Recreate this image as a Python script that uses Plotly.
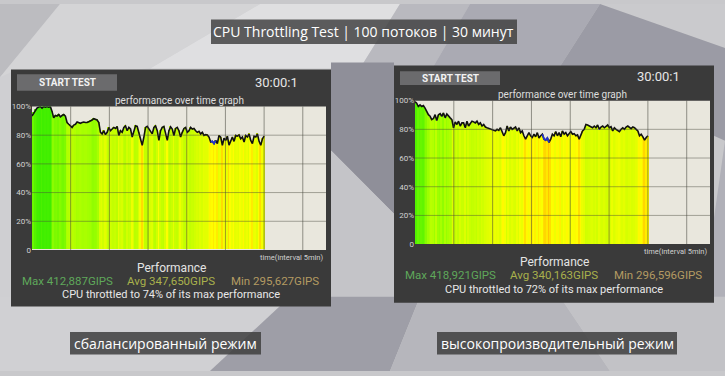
import numpy as np
import plotly.graph_objects as go

W, H = 725, 376

# ---------------- data ----------------
balanced_perf = [93.3, 95.5, 97.8, 98.9, 99.6, 100, 98.9, 100, 99.6, 100, 99.6, 100, 96.6, 92.1, 93.7,
                 93.3, 94.4, 92.8, 93.7, 94.4, 93.3, 88.8, 87.6, 86.5, 85.4, 87.0, 87.6, 89.2, 88.8, 88.3,
                 88.8, 89.2, 88.8, 88.8, 89.4, 89.9, 90.6, 91.5, 91.0, 90.6, 88.8, 82.0, 80.9, 83.1, 80.4,
                 82.0, 85.4, 83.1, 84.3, 85.4, 84.7, 86.1, 79.8, 83.1, 82.0, 85.4, 86.5, 83.1, 85.4, 84.3,
                 78.7, 82.0, 86.5, 86.1, 82.0, 77.5, 73.0, 78.7, 85.4, 86.1, 84.3, 82.0, 80.9, 85.4, 86.5,
                 83.1, 76.4, 83.1, 85.4, 86.1, 82.0, 76.4, 83.1, 85.8, 84.3, 79.8, 84.7, 85.4, 83.1, 78.7,
                 82.0, 84.7, 85.4, 82.0, 83.1, 85.4, 84.3, 84.7, 83.1, 82.0, 82.7, 80.9, 82.0, 79.8, 80.4,
                 80.2, 78.7, 75.3, 75.7, 74.2, 76.4, 74.2, 79.8, 78.7, 73.0, 77.9, 76.4, 79.3, 73.0, 76.4,
                 78.7, 75.7, 79.8, 79.3, 80.2, 77.5, 78.7, 75.3, 79.8, 78.7, 80.9, 76.4, 74.2, 79.3, 78.7,
                 80.9, 75.7, 73.0, 77.5, 79.3]
balanced_min_idx = [107, 108, 109, 110]

highperf_perf = [99.3, 98.2, 95.9, 97.0, 95.9, 96.6, 94.8, 92.5, 90.2, 89.1, 86.8, 87.5, 90.2, 86.1, 90.2,
                 90.9, 89.1, 91.4, 88.0, 90.7, 89.1, 88.0, 86.8, 81.1, 85.2, 83.4, 85.7, 82.3, 84.5, 84.5,
                 81.1, 85.7, 82.3, 84.5, 85.7, 85.2, 84.5, 85.7, 83.4, 84.5, 82.3, 83.4, 81.6, 81.1, 80.7,
                 80.0, 79.8, 79.3, 78.9, 80.0, 79.3, 81.1, 78.4, 75.5, 77.7, 82.3, 78.9, 81.6, 80.0, 81.1,
                 81.6, 78.9, 81.1, 77.7, 78.9, 75.5, 73.2, 75.5, 77.7, 75.5, 74.3, 76.6, 74.8, 77.7, 73.9,
                 75.5, 76.6, 73.2, 72.5, 73.9, 70.9, 73.2, 76.6, 75.5, 78.4, 75.5, 77.7, 74.8, 78.9, 76.6,
                 77.7, 75.5, 77.0, 78.4, 76.6, 77.0, 75.5, 76.1, 73.2, 75.5, 78.9, 80.0, 83.4, 83.0, 82.3,
                 81.6, 81.1, 82.3, 81.1, 83.0, 80.0, 81.6, 82.3, 81.1, 82.3, 83.0, 81.1, 81.8, 78.9, 81.1,
                 80.0, 79.3, 78.4, 80.0, 81.1, 80.0, 81.6, 82.3, 81.1, 80.5, 81.6, 81.1, 80.0, 78.9, 75.5,
                 76.6, 74.8, 72.5, 74.3, 75.5]
highperf_min_idx = [76, 77, 78, 79, 80]

test_minutes = 30
y_ticks = [0, 20, 40, 60, 80, 100]
y_tick_labels = ["0", "20%", "40%", "60%", "80%", "100%"]

panels = [
    dict(perf=balanced_perf, min_idx=balanced_min_idx,
         max_txt="Max 412,887GIPS", avg_txt="Avg 347,650GIPS", min_txt="Min 295,627GIPS",
         throttle_txt="CPU throttled to 74% of its max performance",
         mode_txt="сбалансированный режим"),
    dict(perf=highperf_perf, min_idx=highperf_min_idx,
         max_txt="Max 418,921GIPS", avg_txt="Avg 340,163GIPS", min_txt="Min 296,596GIPS",
         throttle_txt="CPU throttled to 72% of its max performance",
         mode_txt="высокопроизводительный режим"),
]

# ---------------- layout geometry (pixels) ----------------
def fx(x):
    return x / W


def fy(y):
    return 1 - y / H


geo = [
    dict(panel=(11, 67, 331, 310), plot=(32, 105, 326, 252), btn=(17, 72, 117, 89),
         clock=(276, 80), perf_y=270, stats_y=284, thr_y=298, stat_x=(67, 171, 275), cx=171,
         mode_box=(70, 336, 261, 359)),
    dict(panel=(394, 63, 714, 306), plot=(415, 99, 710, 246), btn=(400, 69, 500, 83),
         clock=(658, 74), perf_y=264, stats_y=278, thr_y=293, stat_x=(450, 554, 658), cx=554,
         mode_box=(437, 336, 677, 359)),
]

x_max = 38.0  # minutes shown on the axis (grid every 5 min)

colorscale = [
    [0.0, "#ff9900"],
    [0.143, "#ffbb00"],
    [0.229, "#ffdd00"],
    [0.314, "#ffff00"],
    [0.429, "#e4ff00"],
    [0.571, "#c6ff00"],
    [0.714, "#a0ff00"],
    [0.857, "#70f800"],
    [1.0, "#40ee00"],
]

fig = go.Figure()
shapes = []
annotations = []


def ann(x, y, text, size, color, family="Roboto", xanchor="center", yanchor="middle"):
    annotations.append(dict(x=fx(x), y=fy(y), xref="paper", yref="paper", text=text, showarrow=False,
                            xanchor=xanchor, yanchor=yanchor,
                            font=dict(family=family, size=size, color=color)))


# ---------------- background low-poly ----------------
bg_polys = [
    ([(0, 0), (60, 0), (0, 75)], "#bcbcc0"),
    ([(60, 0), (260, 0), (150, 66), (0, 75)], "#d4d4d6"),
    ([(260, 0), (400, 0), (360, 66), (150, 66)], "#dfdfe1"),
    ([(400, 0), (470, 0), (430, 70), (360, 66)], "#b9b9bf"),
    ([(470, 0), (600, 0), (560, 64), (430, 70)], "#aaaab3"),
    ([(600, 0), (725, 0), (725, 45)], "#cacacd"),
    ([(600, 0), (725, 45), (725, 140), (560, 64)], "#9b9ba5"),
    ([(725, 140), (725, 320), (700, 320)], "#b0b0b8"),
    ([(331, 60), (394, 60), (394, 215), (331, 150)], "#8f8f99"),
    ([(331, 150), (394, 215), (394, 320), (331, 320)], "#c4c4c8"),
    ([(0, 75), (11, 70), (11, 320), (0, 320)], "#cfcfd2"),
    ([(0, 300), (290, 300), (210, 376), (0, 376)], "#d0d0d3"),
    ([(290, 300), (420, 300), (390, 376), (210, 376)], "#9e9ea7"),
    ([(420, 300), (560, 300), (610, 376), (390, 376)], "#b6b6bc"),
    ([(560, 300), (725, 300), (725, 376), (610, 376)], "#c2c2c6"),
]
for pts, col in bg_polys:
    path = "M " + " L ".join(f"{fx(x):.5f},{fy(y):.5f}" for x, y in pts) + " Z"
    shapes.append(dict(type="path", xref="paper", yref="paper", path=path,
                       fillcolor=col, line=dict(width=0), layer="below"))


def rect(box, color):
    x0, y0, x1, y1 = box
    shapes.append(dict(type="rect", xref="paper", yref="paper", x0=fx(x0), x1=fx(x1), y0=fy(y1), y1=fy(y0),
                       fillcolor=color, line=dict(width=0), layer="below"))


# title box
rect((211, 16, 517, 41), "rgba(62,62,62,0.82)")
ann(364, 28.5, "CPU Throttling Test | 100 потоков | 30 минут", 14, "#ffffff", family="Open Sans")

for i, (p, g) in enumerate(zip(panels, geo)):
    n = i + 1
    xa = "x" if n == 1 else f"x{n}"
    ya = "y" if n == 1 else f"y{n}"
    t = np.linspace(0, test_minutes, len(p["perf"]))
    perf = np.array(p["perf"])

    rect(g["panel"], "#3a3a3a")
    px0, py0, px1, py1 = g["plot"]
    rect(g["plot"], "#e9e7dd")
    bx0, by0, bx1, by1 = g["btn"]
    rect(g["btn"], "#6b6b6d")
    ann((bx0 + bx1) / 2, (by0 + by1) / 2, "<b>START TEST</b>", 10, "#f2f2f2")
    ann(g["clock"][0], g["clock"][1], "30:00:1", 13, "#e6e6e6")
    ann((px0 + px1) / 2, py0 - 6, "performance over time graph", 10, "#dddddd")
    ann(px1, py1 + 1, "time(interval 5min)", 7.5, "#d0d0d0", xanchor="right", yanchor="top")
    ann(g["cx"], g["perf_y"], "Performance", 12, "#e4e4e4")
    for sx, txt, col in zip(g["stat_x"], [p["max_txt"], p["avg_txt"], p["min_txt"]],
                            ["#5fa85a", "#a9b14c", "#b49a62"]):
        ann(sx, g["stats_y"], txt, 11.5, col)
    ann(g["cx"], g["thr_y"], p["throttle_txt"], 11, "#e8e8e8")
    mx0, my0, mx1, my1 = g["mode_box"]
    rect(g["mode_box"], "rgba(62,62,62,0.85)")
    ann((mx0 + mx1) / 2, (my0 + my1) / 2, p["mode_txt"], 14, "#ffffff", family="Open Sans")

    # colored strips
    fig.add_trace(go.Bar(x=t, y=perf, width=test_minutes / (len(perf) - 1),
                         marker=dict(color=perf, colorscale=colorscale, cmin=65, cmax=100,
                                     line=dict(width=0)),
                         xaxis=xa, yaxis=ya, showlegend=False, hoverinfo="skip"))
    # performance line
    fig.add_trace(go.Scatter(x=t, y=perf, mode="lines", line=dict(color="#111111", width=1.6),
                             xaxis=xa, yaxis=ya, showlegend=False, cliponaxis=False, hoverinfo="skip"))
    idx = p["min_idx"]
    fig.add_trace(go.Scatter(x=t[idx], y=perf[idx], mode="lines", line=dict(color="#2233cc", width=1.8),
                             xaxis=xa, yaxis=ya, showlegend=False, hoverinfo="skip"))

    # grid lines drawn above the coloured strips
    for gx in range(5, int(x_max) + 1, 5):
        shapes.append(dict(type="line", xref=xa, yref=f"{ya} domain", x0=gx, x1=gx, y0=0, y1=1,
                           line=dict(color="rgba(70,70,60,0.55)", width=1), layer="above"))
    for gy in y_ticks[1:-1]:
        shapes.append(dict(type="line", xref=f"{xa} domain", yref=ya, x0=0, x1=1, y0=gy, y1=gy,
                           line=dict(color="rgba(70,70,60,0.45)", width=1), layer="above"))

    axis_x = dict(domain=[fx(px0), fx(px1)], range=[0, x_max], showgrid=False, zeroline=False,
                  showticklabels=False, ticks="", fixedrange=True, anchor=ya)
    axis_y = dict(domain=[fy(py1), fy(py0)], range=[0, 100], showgrid=False, zeroline=False,
                  tickvals=y_ticks, ticktext=y_tick_labels, ticks="", ticklabelstandoff=0,
                  tickfont=dict(family="Roboto", size=8, color="#d2d2d2"), fixedrange=True, anchor=xa)
    if n == 1:
        fig.update_layout(xaxis=axis_x, yaxis=axis_y)
    else:
        fig.update_layout(**{f"xaxis{n}": axis_x, f"yaxis{n}": axis_y})

fig.update_layout(
    width=W, height=H, margin=dict(l=0, r=0, t=0, b=0),
    paper_bgcolor="#c8c8cb", plot_bgcolor="rgba(0,0,0,0)",
    bargap=0, barmode="overlay", showlegend=False,
    shapes=shapes, annotations=annotations,
)

fig.write_html("out.html", config={"displayModeBar": False},
               post_script="document.body.style.margin='0';document.body.style.overflow='hidden';")
